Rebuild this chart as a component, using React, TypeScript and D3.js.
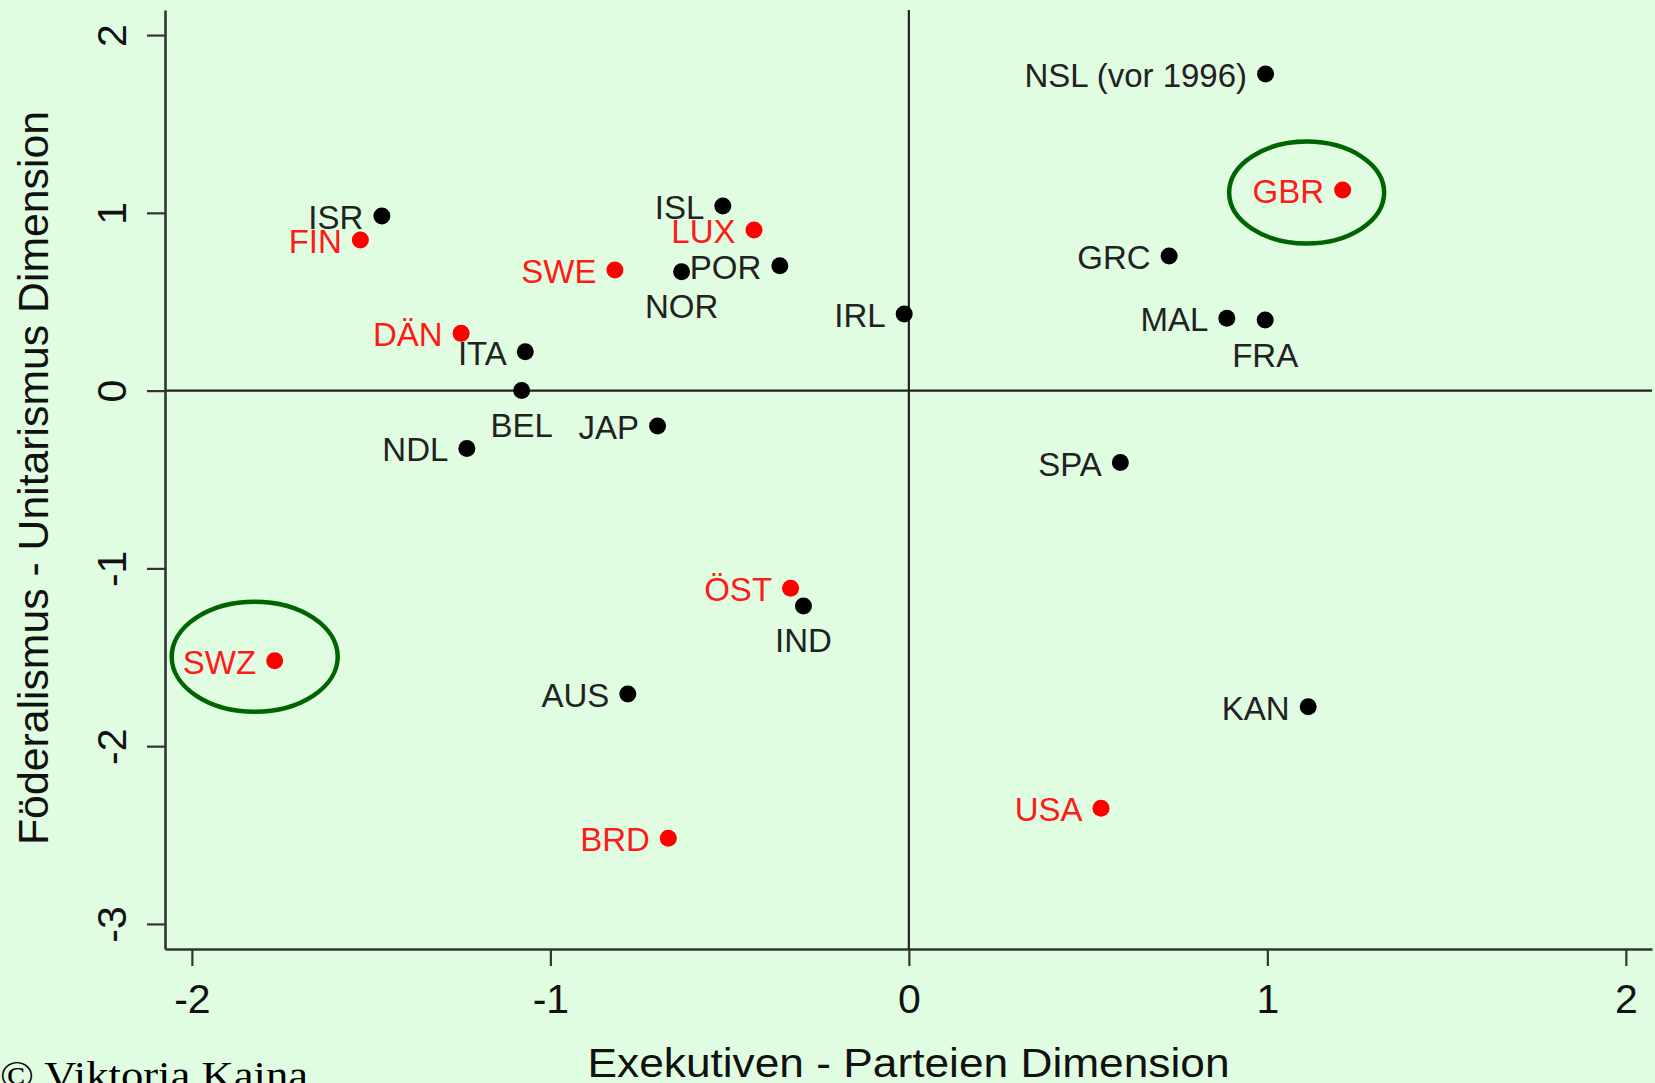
import React, { useEffect, useRef } from 'react';
import * as d3 from 'd3';

// country codes and their two dimension scores
const countries = ['ISR', 'FIN', 'DÄN', 'ITA', 'BEL', 'NDL', 'SWZ', 'ISL', 'LUX', 'SWE', 'NOR', 'POR', 'IRL',
  'NSL (vor 1996)', 'GBR', 'GRC', 'MAL', 'FRA', 'JAP', 'ÖST', 'IND', 'AUS', 'BRD', 'SPA', 'KAN', 'USA'];
const exekutivenParteien = [-1.470, -1.530, -1.249, -1.070, -1.080, -1.233, -1.769, -0.519, -0.432, -0.820, -0.634, -0.360, -0.013,
  0.995, 1.210, 0.726, 0.887, 0.994, -0.701, -0.330, -0.294, -0.784, -0.671, 0.590, 1.114, 0.536];
const foederalismusUnitarismus = [0.982, 0.847, 0.322, 0.219, 0.000, -0.325, -1.519, 1.038, 0.903, 0.678, 0.669, 0.703, 0.431,
  1.781, 1.128, 0.757, 0.407, 0.397, -0.199, -1.112, -1.211, -1.706, -2.518, -0.405, -1.778, -2.349];
const redCountries = ['FIN', 'DÄN', 'SWZ', 'LUX', 'SWE', 'GBR', 'ÖST', 'BRD', 'USA'];
const labelBelow = ['BEL', 'NOR', 'FRA', 'IND'];
const circled = ['SWZ', 'GBR'];
const xTicks = [-2, -1, 0, 1, 2];
const yTicks = [-3, -2, -1, 0, 1, 2];
const xTitle = 'Exekutiven - Parteien Dimension';
const yTitle = 'Föderalismus - Unitarismus Dimension';
const credit = '© Viktoria Kaina';

const W = 1655;
const H = 1083;
const FONT = '"Liberation Sans", Arial, sans-serif';

function App() {
  const ref = useRef<SVGSVGElement>(null);

  useEffect(() => {
    const svg = d3.select(ref.current);
    svg.selectAll('*').remove();

    svg.append('rect').attr('width', W).attr('height', H).attr('fill', '#e1fde1');

    const x = d3.scaleLinear().domain([-2.075, 2.073]).range([165, 1652]);
    const y = d3.scaleLinear().domain([-3.141, 2.141]).range([949, 10]);

    // reference lines at 0
    svg.append('line')
      .attr('x1', x(0)).attr('x2', x(0))
      .attr('y1', y.range()[1]).attr('y2', y.range()[0])
      .attr('stroke', '#222').attr('stroke-width', 2.2);
    svg.append('line')
      .attr('x1', x.range()[0]).attr('x2', x.range()[1])
      .attr('y1', y(0)).attr('y2', y(0))
      .attr('stroke', '#222').attr('stroke-width', 2.2);

    const fmt = (d: any) => String(d);

    const gx = svg.append('g')
      .attr('transform', `translate(0,${y.range()[0]})`)
      .call(d3.axisBottom(x).tickValues(xTicks).tickSize(17).tickSizeOuter(0).tickFormat(fmt));
    gx.selectAll('text')
      .attr('y', 64).attr('dy', null)
      .attr('font-size', 41).attr('font-family', FONT).attr('fill', '#111');

    const gy = svg.append('g')
      .attr('transform', `translate(${x.range()[0]},0)`)
      .call(d3.axisLeft(y).tickValues(yTicks).tickSize(18).tickSizeOuter(0).tickFormat(fmt));
    gy.selectAll('text')
      .attr('x', 0).attr('y', -39).attr('dy', null)
      .attr('transform', 'rotate(-90)')
      .attr('text-anchor', 'middle')
      .attr('font-size', 41).attr('font-family', FONT).attr('fill', '#111');

    [gx, gy].forEach(g => {
      g.select('.domain').attr('stroke', '#333').attr('stroke-width', 2.6);
      g.selectAll('.tick line').attr('stroke', '#333').attr('stroke-width', 2.2);
    });

    const rows = countries.map((c, i) => ({
      name: c,
      vx: exekutivenParteien[i],
      vy: foederalismusUnitarismus[i],
      red: redCountries.includes(c),
      below: labelBelow.includes(c),
    }));

    svg.append('g').selectAll('circle')
      .data(rows)
      .join('circle')
      .attr('cx', d => x(d.vx))
      .attr('cy', d => y(d.vy))
      .attr('r', 8.5)
      .attr('fill', d => d.red ? '#ff0000' : '#000');

    svg.append('g').selectAll('text')
      .data(rows)
      .join('text')
      .attr('x', d => d.below ? x(d.vx) : x(d.vx) - 18.5)
      .attr('y', d => d.below ? y(d.vy) + 46.5 : y(d.vy) + 13)
      .attr('text-anchor', d => d.below ? 'middle' : 'end')
      .attr('font-size', 33)
      .attr('font-family', FONT)
      .attr('fill', d => d.red ? '#ff1a1a' : '#222')
      .text(d => d.name);

    // green rings around the two extreme cases
    const rings = {
      SWZ: { dx: -20, dy: -4, rx: 83, ry: 55 },
      GBR: { dx: -36, dy: 2.5, rx: 77.5, ry: 51 },
    };
    svg.append('g').selectAll('ellipse')
      .data(rows.filter(d => circled.includes(d.name)))
      .join('ellipse')
      .attr('cx', d => x(d.vx) + rings[d.name].dx)
      .attr('cy', d => y(d.vy) + rings[d.name].dy)
      .attr('rx', d => rings[d.name].rx)
      .attr('ry', d => rings[d.name].ry)
      .attr('fill', 'none')
      .attr('stroke', '#006400')
      .attr('stroke-width', 4.5);

    svg.append('text')
      .attr('x', (x.range()[0] + x.range()[1]) / 2)
      .attr('y', 1077)
      .attr('text-anchor', 'middle')
      .attr('font-size', 40)
      .attr('font-family', FONT)
      .attr('fill', '#111')
      .attr('textLength', 642)
      .attr('lengthAdjust', 'spacingAndGlyphs')
      .text(xTitle);

    svg.append('text')
      .attr('transform', `translate(48,478) rotate(-90)`)
      .attr('text-anchor', 'middle')
      .attr('font-size', 42)
      .attr('font-family', FONT)
      .attr('fill', '#111')
      .attr('textLength', 734)
      .attr('lengthAdjust', 'spacingAndGlyphs')
      .text(yTitle);

    svg.append('text')
      .attr('x', 0)
      .attr('y', 1089)
      .attr('font-size', 40)
      .attr('font-family', '"Liberation Serif", "Times New Roman", serif')
      .attr('fill', '#000')
      .attr('textLength', 308)
      .attr('lengthAdjust', 'spacingAndGlyphs')
      .text(credit);
  }, []);

  return (
    <svg ref={ref} width={W} height={H}
      style={{ position: 'absolute', left: 0, top: 0, display: 'block' }} />
  );
}

export default App;
